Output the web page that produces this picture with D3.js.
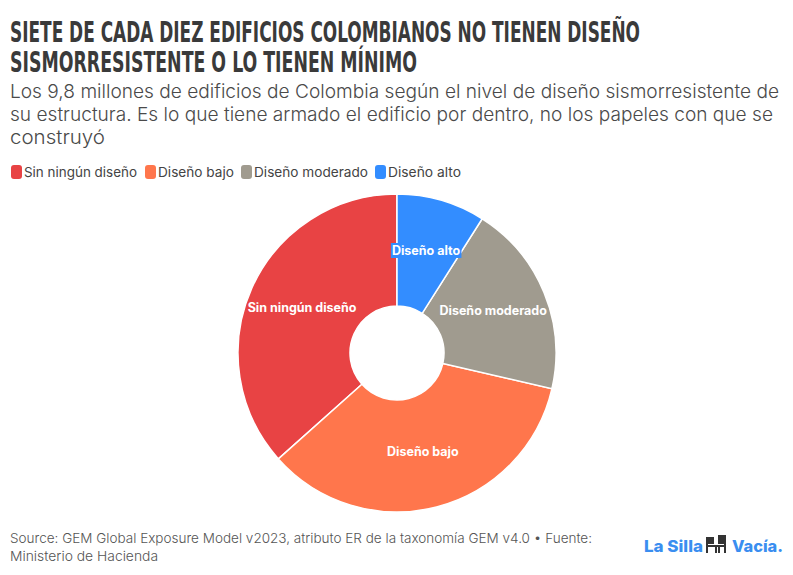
<!DOCTYPE html>
<html><head><meta charset="utf-8">
<script src="https://cdn.jsdelivr.net/npm/d3@7"></script>
<style>
body{margin:0;background:#fff;}
svg{display:block;}
</style></head>
<body>
<svg id="c" width="793" height="575"></svg>
<script>
const categories = ["Sin ningún diseño","Diseño bajo","Diseño moderado","Diseño alto"];
const values = [36.6, 34.8, 19.6, 9.0];
const colors = ["#E84344","#FF764C","#A09B8F","#338DFF"];
const titleLines = ["SIETE DE CADA DIEZ EDIFICIOS COLOMBIANOS NO TIENEN DISEÑO","SISMORRESISTENTE O LO TIENEN MÍNIMO"];
const subtitleLines = ["Los 9,8 millones de edificios de Colombia según el nivel de diseño sismorresistente de","su estructura. Es lo que tiene armado el edificio por dentro, no los papeles con que se","construyó"];
const sourceLines = ["Source: GEM Global Exposure Model v2023, atributo ER de la taxonomía GEM v4.0  •  Fuente:","Ministerio de Hacienda"];

const svg = d3.select("#c");
const tW=[630,407], tY=[42,72];
titleLines.forEach((t,i)=>{
  svg.append("text").attr("x",10).attr("y",tY[i]).text(t)
    .attr("font-family","'Liberation Sans Narrow','DejaVu Sans Condensed',sans-serif")
    .attr("font-weight","bold").attr("font-size",29).attr("fill","#3a3a3a")
    .attr("textLength",tW[i]).attr("lengthAdjust","spacingAndGlyphs");
});
const sW=[769,763,95], sY=[98,121,144];
subtitleLines.forEach((t,i)=>{
  svg.append("text").attr("x",10).attr("y",sY[i]).text(t)
    .attr("font-family","Inter,'Noto Sans',sans-serif").attr("font-weight",300)
    .attr("font-size",18.5).attr("fill","#4a4a4a")
    .attr("textLength",sW[i]).attr("lengthAdjust","spacingAndGlyphs");
});
// legend
const legX=[11,145,241,375], legTW=[113,76,114,73];
categories.forEach((c,i)=>{
  svg.append("rect").attr("x",legX[i]).attr("y",165).attr("width",11).attr("height",14).attr("rx",3).attr("fill",colors[i]);
  svg.append("text").attr("x",legX[i]+13).attr("y",177).text(c)
    .attr("font-family","Inter,'Noto Sans',sans-serif").attr("font-size",13.5).attr("fill","#444")
    .attr("textLength",legTW[i]).attr("lengthAdjust","spacingAndGlyphs");
});
// pie
const cx=397, cy=353, R=159, r0=47;
const pie = d3.pie().sort(null).value(d=>d).startAngle(0).endAngle(-2*Math.PI);
const arcs = pie(values);
const arc = d3.arc().innerRadius(r0).outerRadius(R);
const g = svg.append("g").attr("transform",`translate(${cx},${cy})`);
g.selectAll("path").data(arcs).join("path").attr("d",arc)
  .attr("fill",(d,i)=>colors[i]).attr("stroke","#fff").attr("stroke-width",1.5);
const labelArc = d3.arc().innerRadius((r0+R)/2+1).outerRadius((r0+R)/2+1);
arcs.forEach((d,i)=>{
  const [x,y]=labelArc.centroid(d);
  const t = g.append("text").attr("x",x).attr("y",y-2.5).attr("dy","0.35em").attr("text-anchor","middle")
    .text(categories[i]).attr("font-family","Inter,'Noto Sans',sans-serif").attr("font-weight","bold")
    .attr("font-size",12.5).attr("fill","#fff");
  if(i===3){
    const b=t.node().getBBox();
    g.insert("rect","text").attr("x",b.x-1).attr("y",b.y).attr("width",b.width+2).attr("height",b.height).attr("fill",colors[i]);
  }
});
// source
const fW=[582,148], fY=[543,561];
sourceLines.forEach((t,i)=>{
  svg.append("text").attr("x",10).attr("y",fY[i]).text(t)
    .attr("font-family","Inter,'Noto Sans',sans-serif").attr("font-weight",300).attr("font-size",13.5).attr("fill","#555")
    .attr("textLength",fW[i]).attr("lengthAdjust","spacingAndGlyphs");
});
// logo
const logoBlue="#3A8EF0";
svg.append("text").attr("x",644).attr("y",552).text("La Silla").attr("font-family","Inter,'Noto Sans',sans-serif")
  .attr("font-weight",800).attr("font-size",16).attr("fill",logoBlue).attr("textLength",59).attr("lengthAdjust","spacingAndGlyphs");
svg.append("text").attr("x",732).attr("y",552).text("Vacía.").attr("font-family","Inter,'Noto Sans',sans-serif")
  .attr("font-weight",800).attr("font-size",16).attr("fill",logoBlue).attr("textLength",51).attr("lengthAdjust","spacingAndGlyphs");
const ic = svg.append("g").attr("fill","#333");
ic.append("rect").attr("x",706).attr("y",537).attr("width",2).attr("height",16);
ic.append("rect").attr("x",706).attr("y",537).attr("width",8).attr("height",7);
ic.append("rect").attr("x",706).attr("y",545).attr("width",11).attr("height",2);
ic.append("rect").attr("x",715).attr("y",545).attr("width",2).attr("height",8);
ic.append("rect").attr("x",718).attr("y",535).attr("width",8).attr("height",9);
ic.append("rect").attr("x",724).attr("y",535).attr("width",2).attr("height",18);
ic.append("rect").attr("x",716).attr("y",545).attr("width",10).attr("height",2);
ic.append("rect").attr("x",718).attr("y",545).attr("width",2).attr("height",8);
</script>
</body></html>
